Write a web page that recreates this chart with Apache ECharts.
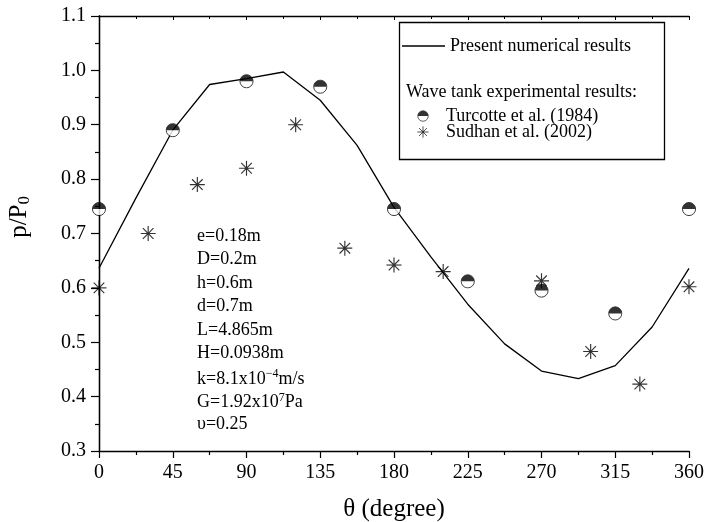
<!DOCTYPE html>
<html>
<head>
<meta charset="utf-8">
<script src="https://cdn.jsdelivr.net/npm/echarts@6/dist/echarts.min.js"></script>
<style>
  html, body { margin: 0; padding: 0; background: #ffffff; }
  #chart { width: 706px; height: 522px; }
</style>
</head>
<body>
<div id="chart"></div>
<script>
// Numerical solution: pressure ratio around the cylinder (every 22.5 degrees)
const lineTheta = [0, 22.5, 45, 67.5, 90, 112.5, 135, 157.5, 180, 202.5, 225, 247.5, 270, 292.5, 315, 337.5, 360];
const lineP = [0.636, 0.765, 0.89, 0.974, 0.985, 0.997, 0.945, 0.862, 0.748, 0.657, 0.57, 0.497, 0.447, 0.433, 0.457, 0.528, 0.636];

// Wave tank measurements, Turcotte et al. (1984)
const turcTheta = [0, 45, 90, 135, 180, 225, 270, 315, 360];
const turcP = [0.745, 0.89, 0.98, 0.97, 0.745, 0.612, 0.595, 0.553, 0.745];

// Wave tank measurements, Sudhan et al. (2002)
const sudTheta = [0, 30, 60, 90, 120, 150, 180, 210, 270, 300, 330, 360];
const sudP = [0.60, 0.70, 0.79, 0.82, 0.90, 0.673, 0.642, 0.63, 0.613, 0.483, 0.423, 0.602];

// Axis ticks
const xTicks = [0, 45, 90, 135, 180, 225, 270, 315, 360];
const yTicks = [0.3, 0.4, 0.5, 0.6, 0.7, 0.8, 0.9, 1.0, 1.1];

// Series names
const seriesNames = ['Present numerical results', 'Turcotte et al. (1984)', 'Sudhan et al. (2002)'];
const legendHeading = 'Wave tank experimental results:';

// Parameter block (n = normal text, sup = superscript)
const paramLines = [
  '{n|e=0.18m}',
  '{n|D=0.2m}',
  '{n|h=0.6m}',
  '{n|d=0.7m}',
  '{n|L=4.865m}',
  '{n|H=0.0938m}',
  '{n|k=8.1x10}{sup|\u22124}{n|m/s}',
  '{n|G=1.92x10}{sup|7}{n|Pa}',
  '{n|\u03c5=0.25}'
];

const FONT = "'Liberation Serif', 'Times New Roman', Times, serif";

function svgSymbol(svg) {
  return 'image://data:image/svg+xml;charset=utf-8,' + encodeURIComponent(svg);
}

// Half-filled circle (top black, bottom white)
const halfCircle = svgSymbol(
  "<svg xmlns='http://www.w3.org/2000/svg' width='32' height='32' viewBox='0 0 32 32'>" +
  "<circle cx='16' cy='16' r='14' fill='#fff' stroke='#000' stroke-width='2'/>" +
  "<path d='M2 16 A14 14 0 0 1 30 16 Z' fill='#000'/>" +
  "</svg>"
);

// Eight-armed asterisk with a dot in the middle
const asterisk = svgSymbol(
  "<svg xmlns='http://www.w3.org/2000/svg' width='32' height='32' viewBox='0 0 32 32'>" +
  "<g stroke='#000' stroke-width='2.3' stroke-linecap='butt'>" +
  "<line x1='16' y1='1' x2='16' y2='31'/>" +
  "<line x1='1' y1='16' x2='31' y2='16'/>" +
  "<line x1='5.4' y1='5.4' x2='26.6' y2='26.6'/>" +
  "<line x1='26.6' y1='5.4' x2='5.4' y2='26.6'/>" +
  "</g><circle cx='16' cy='16' r='3.2' fill='#000'/>" +
  "</svg>"
);

const chart = echarts.init(document.getElementById('chart'), null, { renderer: 'canvas' });

const axisLine = { show: true, lineStyle: { color: '#000', width: 1.3 } };

const paramGraphics = paramLines.map((t, i) => ({
  type: 'text',
  left: 197,
  top: 227 + i * 23.5,
  z: 50,
  style: {
    text: t,
    fill: '#000',
    rich: {
      n: { fontSize: 18, fontFamily: FONT, fill: '#000', lineHeight: 20, verticalAlign: 'bottom' },
      sup: { fontSize: 12, fontFamily: FONT, fill: '#000', lineHeight: 12, verticalAlign: 'bottom', padding: [0, 0, 8, 0] }
    }
  }
}));

chart.setOption({
  animation: false,
  backgroundColor: '#ffffff',
  textStyle: { fontFamily: FONT, color: '#000' },
  grid: { left: 99, right: 17, top: 16, bottom: 71, containLabel: false, outerBoundsMode: 'none' },
  xAxis: [
    {
      type: 'value', min: xTicks[0], max: xTicks[xTicks.length - 1], interval: 45,
      axisLine: axisLine,
      axisTick: { show: true, inside: false, length: 7, lineStyle: { color: '#000', width: 1.2 } },
      minorTick: { show: true, splitNumber: 2, length: 4, lineStyle: { color: '#000', width: 1.2 } },
      splitLine: { show: false },
      axisLabel: { color: '#000', fontSize: 20, fontFamily: FONT, margin: 12 },
      name: '\u03b8 (degree)', nameLocation: 'middle', nameGap: 46,
      nameTextStyle: { color: '#000', fontSize: 25, fontFamily: FONT }
    },
    {
      type: 'value', position: 'top', min: xTicks[0], max: xTicks[xTicks.length - 1], interval: 45,
      axisLine: axisLine,
      axisTick: { show: true, inside: true, length: 4, lineStyle: { color: '#000', width: 1 } },
      minorTick: { show: true, splitNumber: 2, length: 3, lineStyle: { color: '#000', width: 1 } },
      splitLine: { show: false }, axisLabel: { show: false }
    }
  ],
  yAxis: [
    {
      type: 'value', min: yTicks[0], max: yTicks[yTicks.length - 1], interval: 0.1,
      axisLine: axisLine,
      axisTick: { show: true, inside: false, length: 8, lineStyle: { color: '#000', width: 1.2 } },
      minorTick: { show: true, splitNumber: 2, length: 4, lineStyle: { color: '#000', width: 1.2 } },
      splitLine: { show: false },
      axisLabel: { color: '#000', fontSize: 20, fontFamily: FONT, margin: 13, formatter: v => v.toFixed(1) }
    },
    {
      type: 'value', position: 'right', min: yTicks[0], max: yTicks[yTicks.length - 1], interval: 0.1,
      axisLine: axisLine,
      axisTick: { show: true, inside: true, length: 4, lineStyle: { color: '#000', width: 1 } },
      minorTick: { show: true, splitNumber: 2, length: 3, lineStyle: { color: '#000', width: 1 } },
      splitLine: { show: false }, axisLabel: { show: false }
    }
  ],
  legend: [
    {
      data: [{ name: seriesNames[0], icon: 'rect', itemStyle: { color: '#000', borderWidth: 0 } }],
      left: 397, top: 32, z: 60,
      itemWidth: 43, itemHeight: 1.3,
      selectedMode: false,
      textStyle: { fontSize: 18, fontFamily: FONT, color: '#000' }
    },
    {
      data: [seriesNames[1], seriesNames[2]],
      orient: 'vertical',
      left: 412, top: 102, z: 60,
      itemWidth: 12, itemHeight: 12, itemGap: -2,
      selectedMode: false,
      textStyle: { fontSize: 18, fontFamily: FONT, color: '#000', padding: [0, 0, 0, 12] }
    }
  ],
  graphic: [
    {
      type: 'rect', left: 397, top: 20, z: 1,
      shape: { width: 265, height: 137 },
      style: { fill: 'none', stroke: '#000', lineWidth: 1.3 }
    },
    {
      type: 'text', left: 406, top: 83, z: 50,
      style: { text: legendHeading, font: '18px ' + FONT, fill: '#000' }
    },
    {
      type: 'text', left: 7, top: 196, z: 50, rotation: Math.PI / 2,
      style: {
        text: '{m|p/P}{s|0}',
        rich: {
          m: { fontSize: 25, fontFamily: FONT, fill: '#000' },
          s: { fontSize: 17, fontFamily: FONT, fill: '#000', padding: [10, 0, 0, 0] }
        }
      }
    }
  ].concat(paramGraphics),
  series: [
    {
      name: seriesNames[0], type: 'line',
      data: lineTheta.map((t, i) => [t, lineP[i]]),
      showSymbol: false, symbol: 'none',
      lineStyle: { color: '#000', width: 1.3 },
      itemStyle: { color: '#000' },
      z: 2
    },
    {
      name: seriesNames[1], type: 'scatter',
      data: turcTheta.map((t, i) => [t, turcP[i]]),
      symbol: halfCircle, symbolSize: 15, clip: false,
      itemStyle: { color: '#000' },
      z: 3
    },
    {
      name: seriesNames[2], type: 'scatter',
      data: sudTheta.map((t, i) => [t, sudP[i]]),
      symbol: asterisk, symbolSize: 16, clip: false,
      itemStyle: { color: '#000' },
      z: 4
    }
  ]
});
</script>
</body>
</html>
